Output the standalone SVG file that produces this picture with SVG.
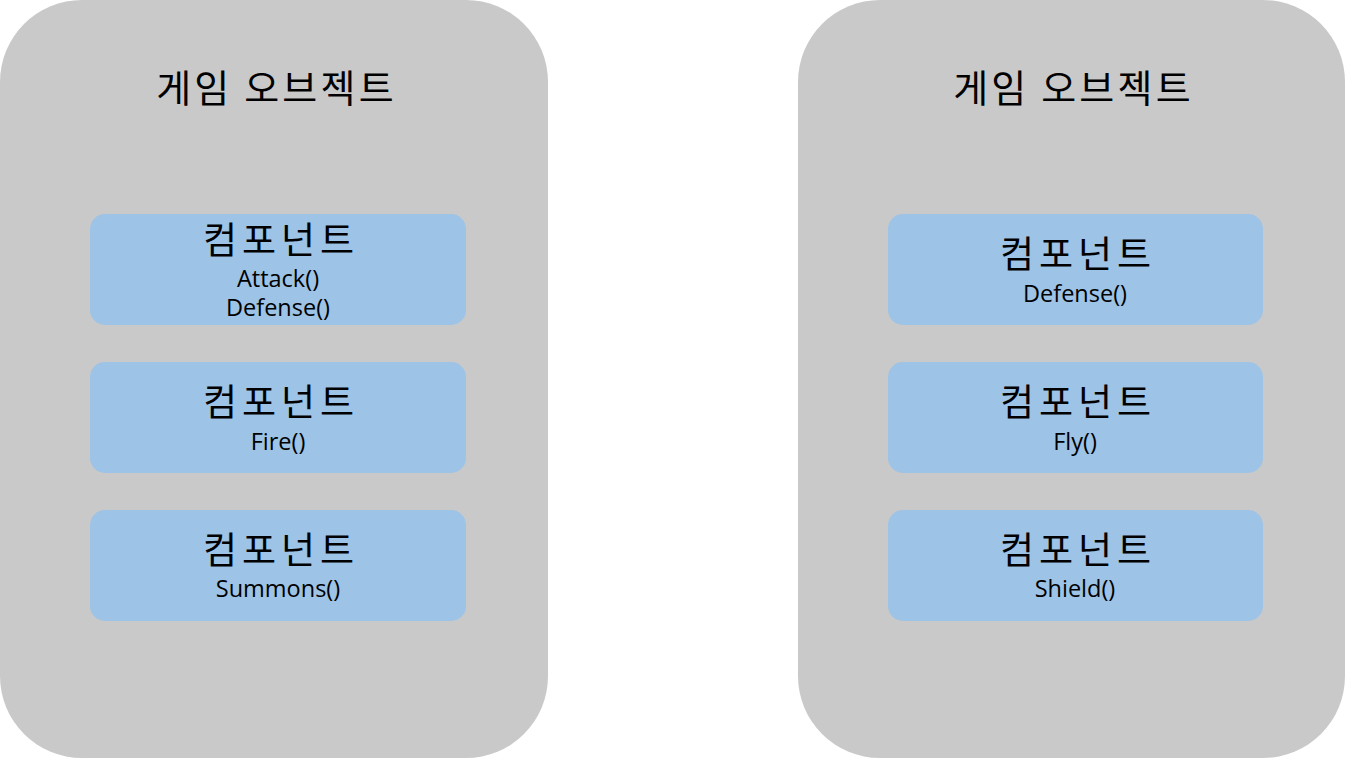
<svg xmlns="http://www.w3.org/2000/svg" width="1346" height="758" viewBox="0 0 1346 758">
<style>
.obj{fill:#c9c9c9}
.comp{fill:#9dc3e6}
.title{font-family:"Noto Sans CJK KR","Noto Sans",sans-serif;font-size:38px;letter-spacing:3.2px;fill:#000;text-anchor:middle}
.ctitle{font-family:"Noto Sans CJK KR","Noto Sans",sans-serif;font-size:37px;letter-spacing:5px;fill:#000;text-anchor:middle}
.fn{font-family:"Open Sans","Noto Sans",sans-serif;font-size:23.5px;fill:#000;text-anchor:middle}
</style>
<rect width="1346" height="758" fill="#ffffff"/>
<g id="obj-left">
<rect class="obj" x="0" y="0" width="548" height="758" rx="82" ry="82"/>
<text class="title" x="276.5" y="102">게임 오브젝트</text>
</g>
<g id="obj-right">
<rect class="obj" x="798" y="0" width="547" height="758" rx="82" ry="82"/>
<text class="title" x="1073.5" y="102">게임 오브젝트</text>
</g>
<g id="comp-l1">
<rect class="comp" x="90" y="214" width="376" height="111" rx="15" ry="15"/>
<text class="ctitle" x="281" y="254">컴포넌트</text>
<text class="fn" x="278" y="287">Attack()</text>
<text class="fn" x="278" y="316">Defense()</text>
</g>
<g id="comp-l2">
<rect class="comp" x="90" y="362" width="376" height="111" rx="15" ry="15"/>
<text class="ctitle" x="281" y="416">컴포넌트</text>
<text class="fn" x="278" y="450">Fire()</text>
</g>
<g id="comp-l3">
<rect class="comp" x="90" y="510" width="376" height="111" rx="15" ry="15"/>
<text class="ctitle" x="281" y="564">컴포넌트</text>
<text class="fn" x="278" y="597">Summons()</text>
</g>
<g id="comp-r1">
<rect class="comp" x="888" y="214" width="375" height="111" rx="15" ry="15"/>
<text class="ctitle" x="1078" y="268">컴포넌트</text>
<text class="fn" x="1075" y="302">Defense()</text>
</g>
<g id="comp-r2">
<rect class="comp" x="888" y="362" width="375" height="111" rx="15" ry="15"/>
<text class="ctitle" x="1078" y="416">컴포넌트</text>
<text class="fn" x="1075" y="450">Fly()</text>
</g>
<g id="comp-r3">
<rect class="comp" x="888" y="510" width="375" height="111" rx="15" ry="15"/>
<text class="ctitle" x="1078" y="564">컴포넌트</text>
<text class="fn" x="1075" y="597">Shield()</text>
</g>
<g id="connectors"></g>
</svg>
